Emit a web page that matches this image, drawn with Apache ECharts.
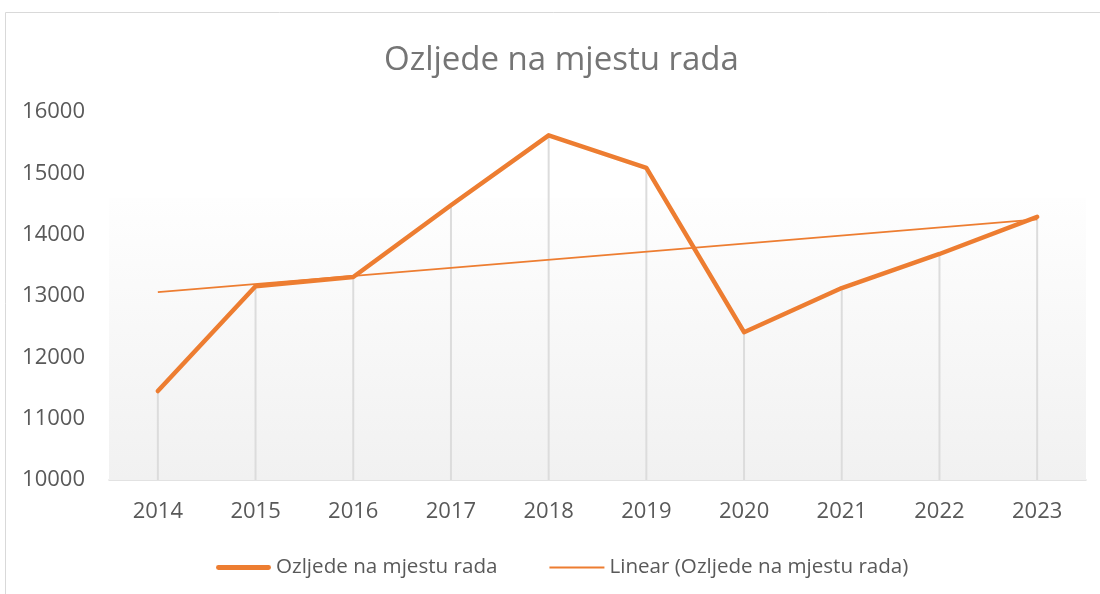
<!DOCTYPE html>
<html>
<head>
<meta charset="utf-8">
<script src="https://cdn.jsdelivr.net/npm/echarts@6/dist/echarts.min.js"></script>
<style>html,body{margin:0;padding:0;background:#fff}#c{width:1100px;height:594px}</style>
</head>
<body>
<div id="c"></div>
<script>
const titleText = 'Ozljede na mjestu rada';
const years = ['2014','2015','2016','2017','2018','2019','2020','2021','2022','2023'];
const injuries = [11450, 13160, 13310, 14480, 15620, 15090, 12410, 13130, 13685, 14290];
const trendStart = 13065;
const trendEnd = 14250;
const yTicks = [10000, 11000, 12000, 13000, 14000, 15000, 16000];
const seriesName = 'Ozljede na mjestu rada';
const trendName = 'Linear (Ozljede na mjestu rada)';

const trend = years.map((y, i) => i === 0 ? trendStart : (i === years.length - 1 ? trendEnd : null));
const FONT = 'Open Sans';
const chart = echarts.init(document.getElementById('c'));
chart.setOption({
  animation: false,
  backgroundColor: '#fff',
  title: {
    text: titleText, left: 379, top: 39,
    textStyle: {fontFamily: FONT, fontSize: 33, fontWeight: 'normal', color: '#757575'}
  },
  graphic: [{
    type: 'rect', shape: {x: 5.5, y: 12.5, width: 1200, height: 700},
    style: {fill: null, stroke: '#d9d9d9', lineWidth: 1}, silent: true
  }],
  legend: {
    top: 552, left: 211,
    data: [
      {name: seriesName, icon: 'path://M2,0 L53,0 A2.5,2.5 0 0 1 53,5 L2,5 A2.5,2.5 0 0 1 2,0 Z'},
      {name: trendName, icon: 'path://M0,0 L55,0 L55,2 L0,2 Z'}
    ],
    itemWidth: 55, itemHeight: 14, itemGap: 52,
    itemStyle: {color: '#ED7D31', borderWidth: 0},
    textStyle: {fontFamily: FONT, fontSize: 20.6, color: '#595959'}
  },
  grid: {left: 109, right: 14, top: 112, bottom: 114, containLabel: false},
  xAxis: {
    type: 'category', data: years, boundaryGap: true,
    axisLine: {lineStyle: {color: '#d9d9d9', width: 1.5}},
    axisTick: {show: false},
    axisLabel: {fontFamily: FONT, fontSize: 22, color: '#595959', margin: 21},
    splitLine: {show: false}
  },
  yAxis: {
    type: 'value', min: yTicks[0], max: yTicks[yTicks.length - 1], interval: 1000,
    axisLine: {show: false}, axisTick: {show: false},
    axisLabel: {fontFamily: FONT, fontSize: 22, color: '#595959', margin: 24, formatter: v => String(v)},
    splitLine: {show: false}
  },
  series: [
    {
      type: 'line', name: '_bg', data: [], z: 0, silent: true,
      markArea: {
        silent: true,
        itemStyle: {color: {type: 'linear', x: 0, y: 0, x2: 0, y2: 1,
          colorStops: [{offset: 0, color: '#fefefe'}, {offset: 1, color: '#f1f1f1'}]}},
        data: [[{yAxis: 10000}, {yAxis: 14600}]]
      }
    },
    {
      type: 'bar', name: '_drop', data: injuries, barWidth: 2, z: 1, silent: true,
      itemStyle: {color: '#dcdcdc'}
    },
    {
      type: 'line', name: trendName, data: trend, connectNulls: true, symbol: 'none', z: 3,
      lineStyle: {color: '#ED7D31', width: 1.75}, itemStyle: {color: '#ED7D31'}
    },
    {
      type: 'line', name: seriesName, data: injuries, symbol: 'none', z: 4,
      lineStyle: {color: '#ED7D31', width: 4.5, join: 'round', cap: 'round'}, itemStyle: {color: '#ED7D31'}
    }
  ]
});
</script>
</body>
</html>
